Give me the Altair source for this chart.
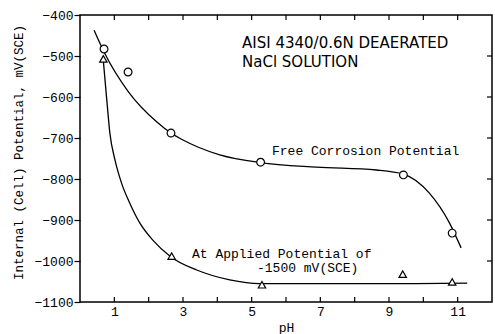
import altair as alt
import pandas as pd

# --- data ---
free_curve_ph = [0.41, 0.73, 1.4, 2.24, 2.65, 3.0, 3.43, 4.07, 5.25, 6.89, 8.63, 9.42, 10.17, 10.76, 11.1]
free_curve_mv = [-437, -495, -586, -661, -688, -705, -722, -741, -760, -771, -778, -788, -834, -907, -968]

applied_curve_ph = [0.68, 0.78, 0.87, 1.02, 1.21, 1.45, 1.74, 2.12, 2.65, 3.4, 4.36, 5.23, 7.5, 9.4, 11.28]
applied_curve_mv = [-512, -607, -688, -754, -810, -859, -907, -949, -990, -1022, -1046, -1055, -1055, -1055, -1054]

free_pts_ph = [0.70, 1.40, 2.65, 5.26, 9.42, 10.84]
free_pts_mv = [-483, -539, -688, -759, -790, -932]

applied_pts_ph = [0.68, 2.67, 5.30, 9.40, 10.84]
applied_pts_mv = [-507, -988, -1058, -1032, -1051]

x_label_vals = [1, 3, 5, 7, 9, 11]
x_tick_vals = list(range(1, 12))
y_tick_vals = [-1100, -1000, -900, -800, -700, -600, -500, -400]
y_inner_ticks = [-1000, -900, -800, -700, -600, -500]

W, H = 412, 287
MONO = "Liberation Mono"

xs = alt.Scale(domain=[0, 12], nice=False, zero=False)
ys = alt.Scale(domain=[-1100, -400], nice=False, zero=False)

free_curve = pd.DataFrame({"ph": free_curve_ph, "mv": free_curve_mv})
applied_curve = pd.DataFrame({"ph": applied_curve_ph, "mv": applied_curve_mv})
free_pts = pd.DataFrame({"ph": free_pts_ph, "mv": free_pts_mv})
applied_pts = pd.DataFrame({"ph": applied_pts_ph, "mv": applied_pts_mv})

x_axis = alt.Axis(values=x_label_vals, ticks=False, domain=False, grid=False, format="d",
                  labelFont=MONO, labelFontSize=13, labelColor="black", labelPadding=3,
                  title="pH", titleFont=MONO, titleFontSize=13, titleFontWeight="normal",
                  titleColor="black", titleY=25, titleBaseline="middle")
y_axis = alt.Axis(values=y_tick_vals, tickSize=6, tickColor="black", tickWidth=1.2, format="d",
                  domain=False, grid=False, labelFont=MONO, labelFontSize=13,
                  labelColor="black", labelPadding=1,
                  title="Internal (Cell) Potential, mV(SCE)", titleFont=MONO,
                  titleFontSize=12.5, titleFontWeight="normal", titleColor="black",
                  titleAngle=270, titleX=-62, titleY=137, titleAlign="center",
                  titleBaseline="middle")

X = lambda f: alt.X(f, scale=xs, axis=x_axis)
Y = lambda f: alt.Y(f, scale=ys, axis=y_axis)

base_free = alt.Chart(free_curve).mark_line(color="black", strokeWidth=1.3, interpolate="monotone").encode(
    x=X("ph:Q"), y=Y("mv:Q"))
base_applied = alt.Chart(applied_curve).mark_line(color="black", strokeWidth=1.3, interpolate="monotone").encode(
    x=X("ph:Q"), y=Y("mv:Q"))
circles = alt.Chart(free_pts).mark_point(shape="circle", size=60, filled=True, fill="white",
                                         stroke="black", strokeWidth=1.2, opacity=1).encode(
    x=X("ph:Q"), y=Y("mv:Q"))
tris = alt.Chart(applied_pts).mark_point(shape="triangle-up", size=55, filled=True, fill="white",
                                         stroke="black", strokeWidth=1.2, opacity=1).encode(
    x=X("ph:Q"), y=Y("mv:Q"))

xt = pd.DataFrame({"v": x_tick_vals})
yt = pd.DataFrame({"v": y_inner_ticks})
bottom_ticks = alt.Chart(xt).mark_rule(color="black", strokeWidth=1.2).encode(
    x=X("v:Q"), y=alt.value(H), y2=alt.value(H - 5))
top_ticks = alt.Chart(xt).mark_rule(color="black", strokeWidth=1.2).encode(
    x=X("v:Q"), y=alt.value(0), y2=alt.value(5))
right_ticks = alt.Chart(yt).mark_rule(color="black", strokeWidth=1.2).encode(
    y=Y("v:Q"), x=alt.value(W), x2=alt.value(W - 5))

def label(text, x, y, font, size):
    return alt.Chart(pd.DataFrame({"t": [text]})).mark_text(
        align="left", baseline="middle", font=font, fontSize=size, color="black"
    ).encode(text="t:N", x=alt.value(x), y=alt.value(y))

labels = [
    label("AISI 4340/0.6N DEAERATED", 162, 28, "DejaVu Sans", 15),
    label("NaCl SOLUTION", 162, 47, "DejaVu Sans", 15),
    label("Free Corrosion Potential", 192, 136, MONO, 13),
    label("At Applied Potential of", 112, 239, MONO, 13),
    label("-1500 mV(SCE)", 177, 253, MONO, 13),
]

chart = alt.layer(
    base_free, base_applied, bottom_ticks, top_ticks, right_ticks, circles, tris, *labels
).properties(
    width=W, height=H,
    autosize=alt.AutoSizeParams(type="none"),
    padding={"left": 80, "top": 15, "right": 3, "bottom": 32},
    background="white",
).configure_view(stroke="black", strokeWidth=1.5)

chart.save("out.html", embed_options={"renderer": "svg", "actions": False})
